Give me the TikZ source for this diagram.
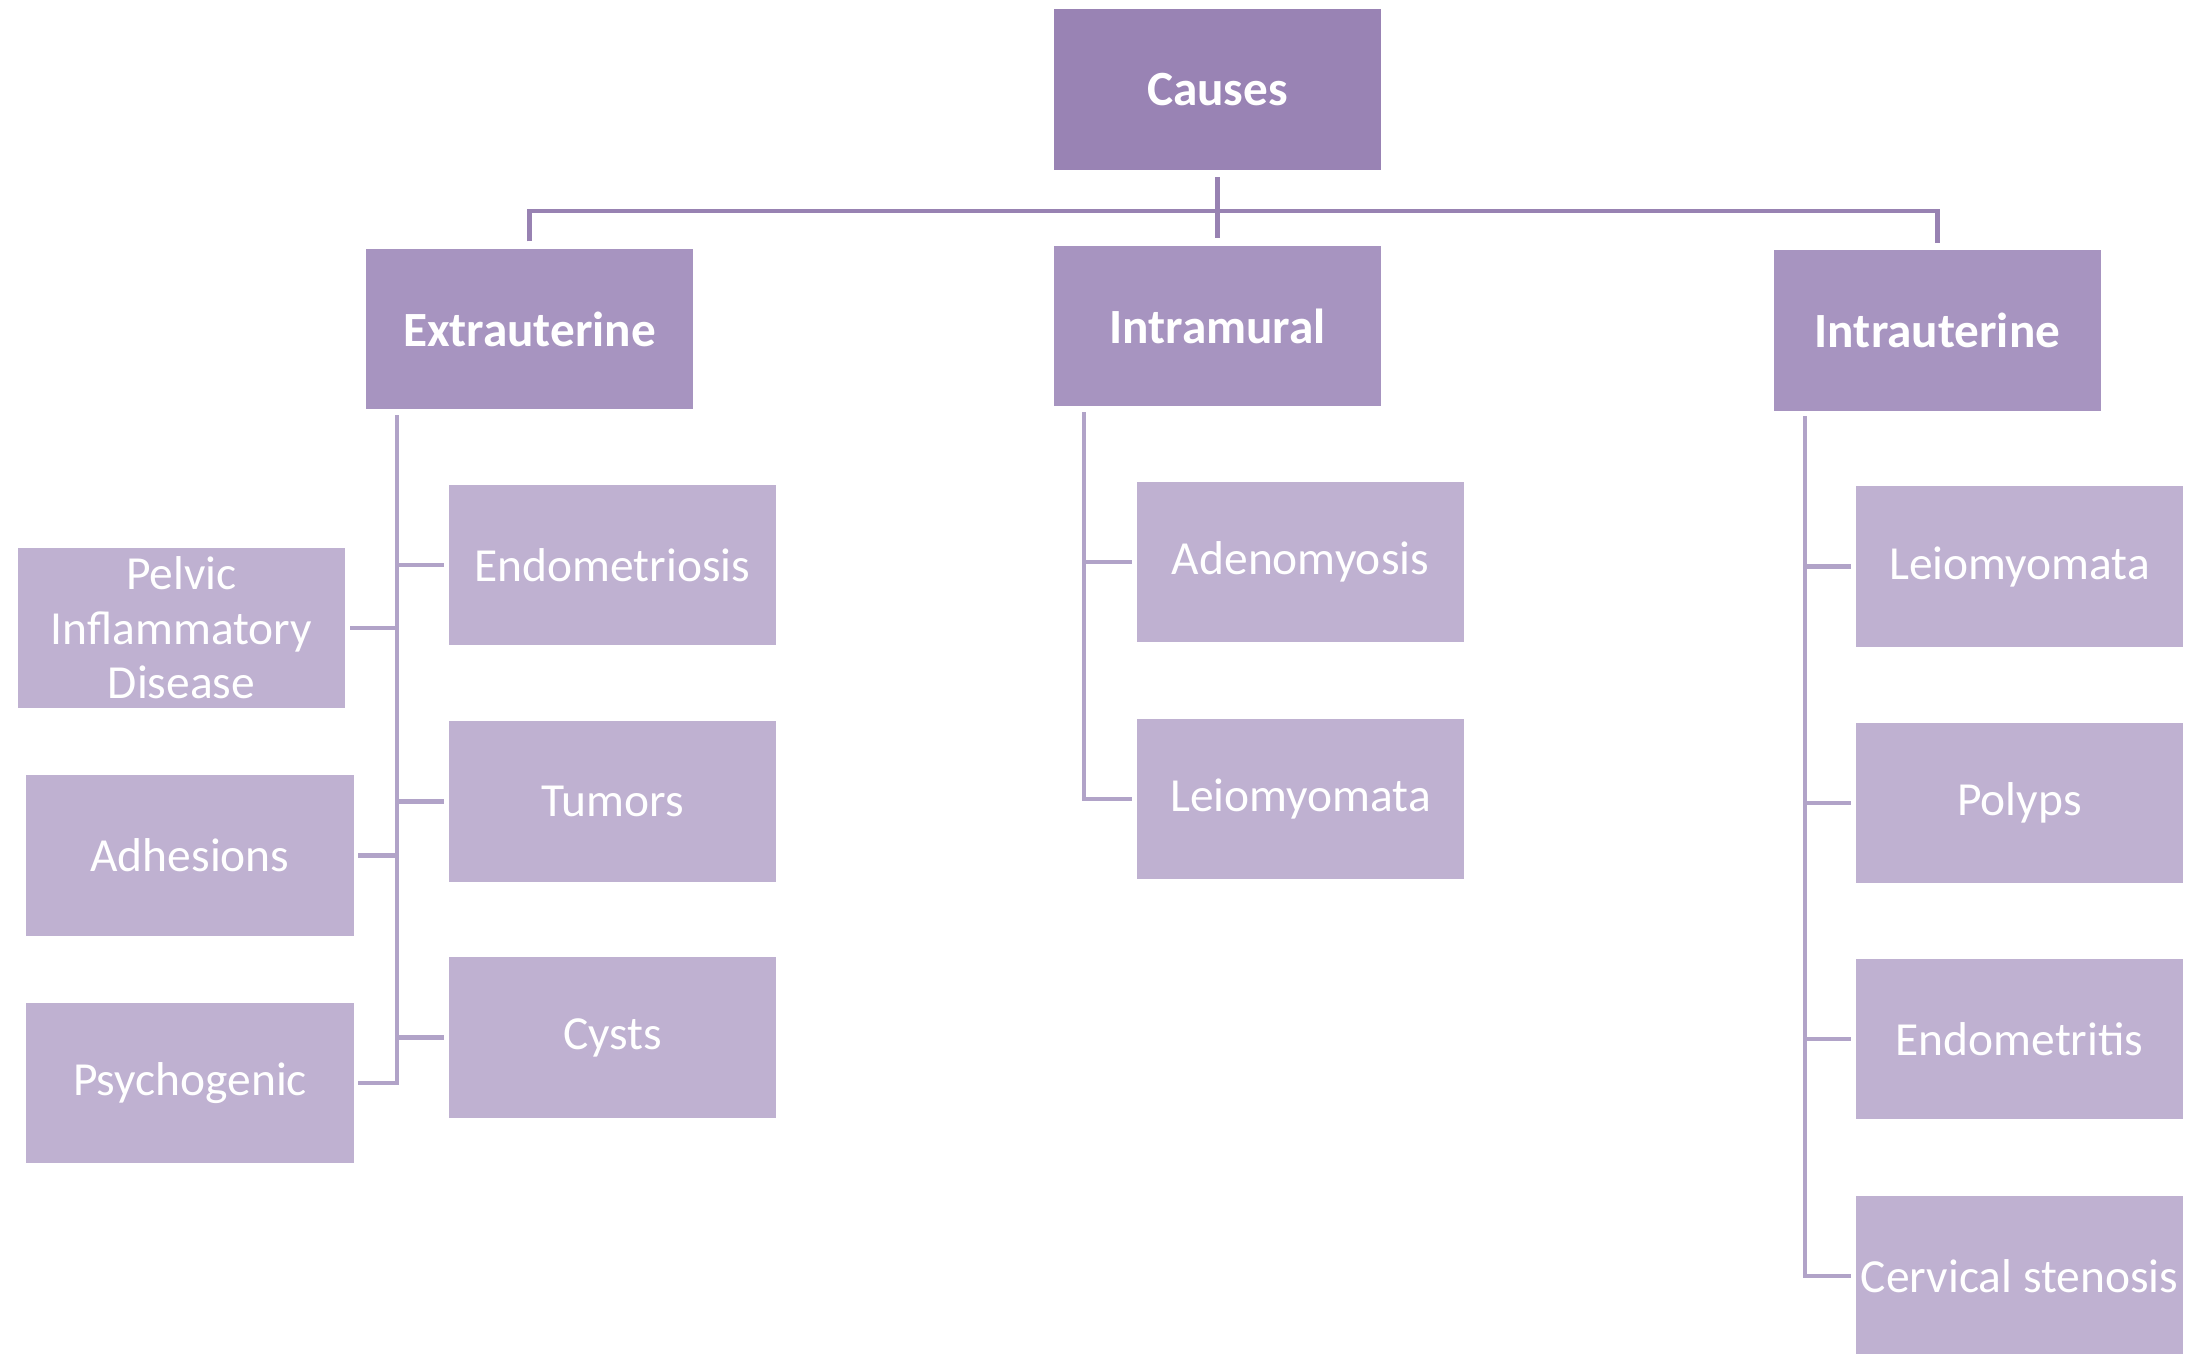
\documentclass[tikz,border=0pt]{standalone}
\usepackage{fontspec}
\setmainfont{Carlito}
\usetikzlibrary{positioning}
\definecolor{rootfill}{RGB}{153,131,180}
\definecolor{groupfill}{RGB}{167,148,192}
\definecolor{leaffill}{RGB}{191,177,209}
\definecolor{linkdark}{RGB}{152,130,178}
\definecolor{linklight}{RGB}{177,163,200}

\tikzset{
  box/.style={rectangle, minimum width=3.27cm, minimum height=1.6cm, inner sep=0pt, text=white, align=center},
  rootbox/.style={box, fill=rootfill, font=\fontsize{14}{17}\selectfont\bfseries},
  groupbox/.style={box, fill=groupfill, font=\fontsize{14}{17}\selectfont\bfseries},
  leafbox/.style={box, fill=leaffill, font=\fontsize{13.5}{15.5}\selectfont},
  toplink/.style={draw=linkdark, line width=1.4pt, shorten <=0.07cm, shorten >=0.07cm},
  sublink/.style={draw=linklight, line width=1.4pt, shorten >=0.04cm}
}

\begin{document}
\begin{tikzpicture}[x=0.01cm, y=-0.01cm]
    \clip (0,0) rectangle (2190,1354);
    \fill[white] (0,0) rectangle (2190,1354);

    % top levels
    \node[rootbox] (causes) at (1217.5,89.5) {Causes};
    \node[groupbox] (ext) at (529.5,329) {Extrauterine};
    \node[groupbox] (intm) at (1217.5,326) {Intramural};
    \node[groupbox] (intu) at (1937.5,330.5) {Intrauterine};

    % extrauterine
    \node[leafbox] (endo) at (612.5,565) {Endometriosis};
    \node[leafbox] (tum) at (612.5,801.5) {Tumors};
    \node[leafbox] (cys) at (612.5,1037.5) {Cysts};
    \node[leafbox] (pid) at (181.5,628) {Pelvic\\Inflammatory\\Disease};
    \node[leafbox] (adh) at (190,855.5) {Adhesions};
    \node[leafbox] (psy) at (190,1083) {Psychogenic};

    % intramural
    \node[leafbox] (aden) at (1300.5,562) {Adenomyosis};
    \node[leafbox] (leiA) at (1300.5,799) {Leiomyomata};

    % intrauterine
    \node[leafbox] (leiB) at (2019.5,566.5) {Leiomyomata};
    \node[leafbox] (pol) at (2019.5,803) {Polyps};
    \node[leafbox] (endt) at (2019.5,1039) {Endometritis};
    \node[leafbox] (cerv) at (2019.5,1276) {Cervical stenosis};

    % links
    \coordinate (bus) at (1217.5,211);
    \draw[toplink] (causes) -- (intm);
    \draw[toplink] (ext) |- (bus) -| (intu);

    \coordinate (extT) at (397,415);
    \coordinate (intmT) at (1084,412);
    \coordinate (intuT) at (1805,416);
    \draw[sublink] (extT) |- (psy);
    \foreach \n in {pid,adh,endo,tum,cys}
        \draw[sublink] (extT |- \n) -- (\n);
    \draw[sublink] (intmT) |- (leiA);
    \draw[sublink] (intmT |- aden) -- (aden);
    \draw[sublink] (intuT) |- (cerv);
    \foreach \n in {leiB,pol,endt}
        \draw[sublink] (intuT |- \n) -- (\n);
\end{tikzpicture}
\end{document}
